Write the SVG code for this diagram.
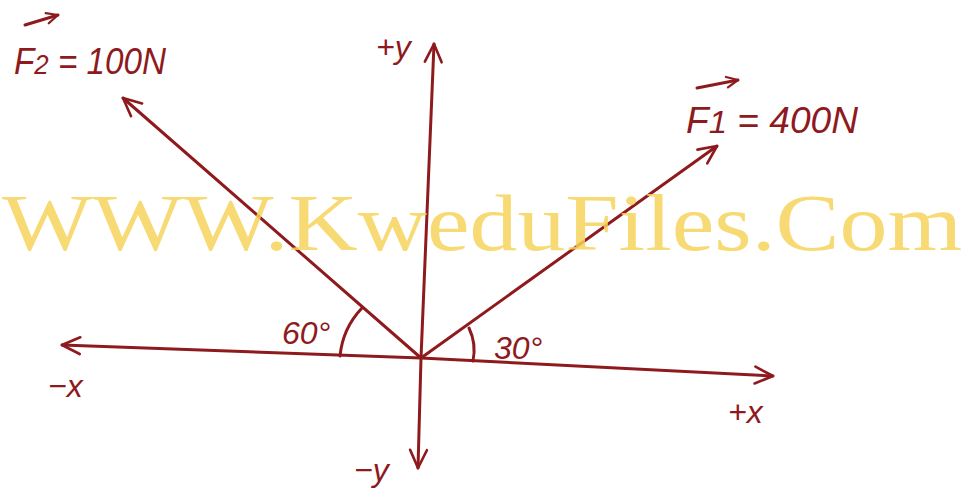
<svg xmlns="http://www.w3.org/2000/svg" width="966" height="490" viewBox="0 0 966 490">
<style>
.ln{stroke:#8e1a1e;stroke-width:3;fill:none;stroke-linecap:round}
.t{font-family:"Liberation Sans",Arial,sans-serif;fill:#8e1a1e;font-style:italic}
.wm{font-family:"Liberation Serif","Times New Roman",serif;fill:#f6d35a;fill-opacity:0.85}
</style>
<defs>
<marker id="ah" viewBox="0 0 20 20" refX="18" refY="10" markerWidth="24" markerHeight="24" markerUnits="userSpaceOnUse" orient="auto">
<path d="M3,3 L18,10 L3,17" fill="none" stroke="#8e1a1e" stroke-width="2.2" stroke-linecap="round" stroke-linejoin="round"/>
</marker>
<marker id="ahs" viewBox="0 0 20 20" refX="18" refY="10" markerWidth="15" markerHeight="15" markerUnits="userSpaceOnUse" orient="auto">
<path d="M3,3 L18,10 L3,17" fill="none" stroke="#8e1a1e" stroke-width="3" stroke-linecap="round" stroke-linejoin="round"/>
</marker>
</defs>
<rect width="966" height="490" fill="#ffffff"/>
<g id="connectors">
<line class="ln" x1="421" y1="358" x2="62" y2="345" marker-end="url(#ah)"/>
<line class="ln" x1="421" y1="358" x2="773" y2="376" marker-end="url(#ah)"/>
<line class="ln" x1="421" y1="358" x2="434" y2="44" marker-end="url(#ah)"/>
<line class="ln" x1="421" y1="358" x2="418" y2="468" marker-end="url(#ah)"/>
<line class="ln" x1="421" y1="358" x2="123" y2="98" marker-end="url(#ah)"/>
<line class="ln" x1="421" y1="358" x2="717" y2="146" marker-end="url(#ah)"/>
<path class="ln" d="M340,356 A81,81 0 0 1 362,308"/>
<path class="ln" d="M473,361 A52,52 0 0 0 469,328"/>
</g>
<g id="f2-label">
<line class="ln" x1="25" y1="25" x2="58" y2="15" marker-end="url(#ahs)"/>
<text class="t" x="14" y="74" font-size="36" textLength="152" lengthAdjust="spacingAndGlyphs">F<tspan font-size="28">2</tspan> = 100N</text>
</g>
<g id="f1-label">
<line class="ln" x1="697" y1="88" x2="738" y2="80" marker-end="url(#ahs)"/>
<text class="t" x="686" y="133" font-size="36" textLength="172" lengthAdjust="spacingAndGlyphs">F<tspan font-size="32">1</tspan> = 400N</text>
</g>
<g id="angle-60"><text class="t" x="282" y="344" font-size="32">60°</text></g>
<g id="angle-30"><text class="t" x="494" y="359" font-size="32">30°</text></g>
<g id="plus-y"><text class="t" x="376" y="58" font-size="32">+y</text></g>
<g id="minus-y"><text class="t" x="354" y="481" font-size="32">−y</text></g>
<g id="minus-x"><text class="t" x="48" y="397" font-size="32">−x</text></g>
<g id="plus-x"><text class="t" x="728" y="423" font-size="32">+x</text></g>
<text class="wm" x="2" y="250" font-size="80" textLength="960" lengthAdjust="spacingAndGlyphs">WWW.KweduFiles.Com</text>
</svg>
